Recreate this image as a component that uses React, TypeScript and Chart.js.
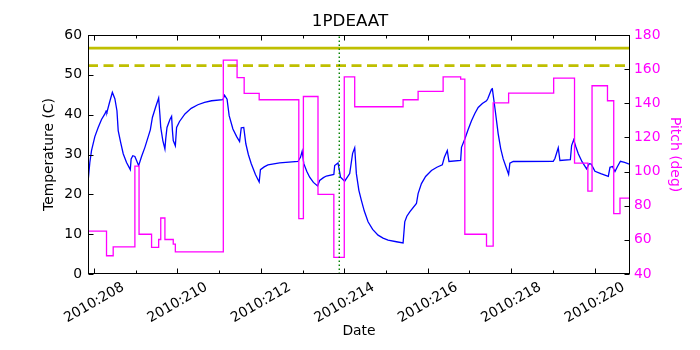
import React, { useEffect, useRef } from "react";
import { Chart, registerables } from "chart.js";

Chart.register(...registerables);

// ---- data (day of year 2010, fractional) ----
const xMin = 207.856;
const xMax = 220.85;

const tempDays = [
  207.856, 207.9, 207.94, 208.02, 208.1, 208.18, 208.26, 208.29, 208.31, 208.37, 208.44, 208.5, 208.55, 208.58,
  208.64, 208.7, 208.78, 208.87, 208.89, 208.93, 208.98, 209.02, 209.07, 209.14, 209.22, 209.3, 209.35, 209.4,
  209.48, 209.55, 209.58, 209.6, 209.65, 209.7, 209.72, 209.75, 209.82, 209.86, 209.88, 209.9, 209.95, 209.98,
  210.05, 210.18, 210.33, 210.49, 210.65, 210.82, 211.09, 211.13, 211.19, 211.24, 211.33, 211.42, 211.49, 211.53,
  211.59, 211.64, 211.7, 211.77, 211.87, 211.96, 211.99, 212.08, 212.17, 212.45, 212.89, 212.95, 212.99, 213.03,
  213.1, 213.17, 213.26, 213.36, 213.41, 213.5, 213.57, 213.75, 213.77, 213.85, 213.91, 214.01, 214.13, 214.2,
  214.25, 214.29, 214.35, 214.41, 214.48, 214.57, 214.68, 214.81, 214.93, 215.05, 215.25, 215.41, 215.45, 215.5,
  215.57, 215.73, 215.77, 215.85, 215.95, 216.09, 216.22, 216.35, 216.4, 216.47, 216.51, 216.79, 216.81, 216.89,
  216.97, 217.05, 217.13, 217.21, 217.31, 217.41, 217.44, 217.53, 217.55, 217.61, 217.69, 217.75, 217.81, 217.88,
  217.94, 217.97, 218.05, 219.01, 219.05, 219.13, 219.17, 219.42, 219.45, 219.5, 219.55, 219.61, 219.7, 219.81,
  219.87, 219.92, 220.01, 220.15, 220.33, 220.37, 220.43, 220.49, 220.55, 220.62, 220.72, 220.85,
];
const tempValues = [
  23, 28, 31, 34.5, 36.8, 38.8, 40.2, 40.9, 40.6, 43, 45.6, 44, 41, 36,
  33, 30.2, 28, 26.2, 28.9, 29.7, 29.5, 28.5, 27.2, 29.5, 31.8, 34.5, 36.2, 39.3,
  42, 44.2, 40, 36.8, 33.5, 31.4, 34, 36.8, 38.8, 39.6, 36, 33.5, 32.2, 36.8,
  38.3, 40.2, 41.6, 42.5, 43.1, 43.5, 43.75, 44.9, 43.9, 39.75, 36.4, 34.5, 33.25, 36.7,
  36.8, 32.7, 30, 27.7, 25, 23.1, 26.2, 26.9, 27.4, 27.9, 28.25, 29.3, 30.8, 27.7,
  25.8, 24.3, 23, 22.1, 23.5, 24.2, 24.6, 25, 27.25, 27.9, 24.3, 23.3, 25.2, 30.3,
  31.7, 25.2, 21, 18.5, 15.8, 13.1, 11.2, 9.75, 9, 8.5, 8.1, 7.8, 13.1, 14.5,
  15.6, 17.7, 20.2, 22.7, 24.5, 26, 26.8, 27.4, 29.3, 31, 28.25, 28.5, 31.8, 33.9,
  36.3, 38.5, 40.3, 41.8, 42.8, 43.5, 44, 46.4, 46.5, 41.8, 35.2, 31.5, 28.9, 26.8,
  25, 27.8, 28.25, 28.3, 29, 31.7, 28.5, 28.7, 32.25, 33.7, 32, 30.2, 28.2, 26.4,
  27.7, 27.6, 25.8, 25.2, 24.5, 26.8, 27, 25.75, 27, 28.3, 28, 27.5,
];

const pitchDays = [
  207.856, 208.3, 208.46, 208.98, 209.08, 209.38, 209.55, 209.6, 209.7, 209.9, 209.95, 211.1, 211.43, 211.6,
  211.96, 212.91, 213.02, 213.37, 213.75, 214.0, 214.25, 215.41, 215.77, 216.37, 216.79, 216.89, 217.41, 217.57,
  217.94, 219.02, 219.52, 219.84, 219.94, 220.31, 220.46, 220.61, 220.85,
];
const pitchValues = [
  65.1, 50.7, 55.9, 103.2, 63.3, 55.6, 60.2, 72.8, 60.2, 57.5, 53, 165.3, 155.1, 145.8,
  142.1, 72.5, 144, 86.7, 49.7, 155.5, 138, 142.1, 147, 155.5, 154.2, 63.3, 56.3, 140.2,
  146, 154.8, 105, 88.6, 150.3, 141.5, 75.4, 84.5, 84.5,
];

const tempLimitSolid = 56.7;
const tempLimitDashed = 52.3;
const markerDay = 213.88;

const labeledDays = [208, 210, 212, 214, 216, 218, 220];
const xTickLabels = ["2010:208", "2010:210", "2010:212", "2010:214", "2010:216", "2010:218", "2010:220"];
const dayTicks = [208, 209, 210, 211, 212, 213, 214, 215, 216, 217, 218, 219, 220];
const tempTicks = [0, 10, 20, 30, 40, 50, 60];
const pitchTicks = [40, 60, 80, 100, 120, 140, 160, 180];

const FONT = "'DejaVu Sans', sans-serif";
const MAGENTA = "#ff00ff";

const framePlugin = {
  id: "mplFrame",
  afterDatasetsDraw(chart: any) {
    const { ctx, chartArea, scales } = chart;
    const left = Math.round(chartArea.left) + 0.5;
    const right = Math.round(chartArea.right) - 0.5;
    const top = Math.round(chartArea.top) + 0.5;
    const bottom = Math.round(chartArea.bottom) - 0.5;
    ctx.save();
    ctx.strokeStyle = "#000";
    ctx.lineWidth = 1;
    ctx.strokeRect(left, top, right - left, bottom - top);
    ctx.beginPath();
    for (const d of dayTicks) {
      const x = Math.round(scales.x.getPixelForValue(d)) + 0.5;
      const len = labeledDays.includes(d) ? 5 : 3;
      ctx.moveTo(x, bottom);
      ctx.lineTo(x, bottom - len);
      ctx.moveTo(x, top);
      ctx.lineTo(x, top + len);
    }
    for (const v of tempTicks) {
      const y = Math.round(scales.y.getPixelForValue(v)) + 0.5;
      ctx.moveTo(left, y);
      ctx.lineTo(left + 5, y);
    }
    for (const v of pitchTicks) {
      const y = Math.round(scales.y1.getPixelForValue(v)) + 0.5;
      ctx.moveTo(right, y);
      ctx.lineTo(right - 5, y);
    }
    ctx.stroke();
    ctx.restore();
  },
};

export default function App() {
  const canvasRef = useRef<HTMLCanvasElement | null>(null);

  useEffect(() => {
    const canvas = canvasRef.current;
    if (!canvas) return;
    Chart.defaults.font.family = FONT;

    const tempData = tempDays.map((d, i) => ({ x: d, y: tempValues[i] }));
    const pitchData = pitchDays.map((d, i) => ({ x: d, y: pitchValues[i] }));

    const chart = new Chart(canvas, {
      type: "line",
      data: {
        datasets: [
          {
            label: "marker",
            data: [
              { x: markerDay, y: 0 },
              { x: markerDay, y: 60 },
            ],
            yAxisID: "y",
            borderColor: "#008000",
            borderWidth: 1.4,
            borderDash: [1.4, 2.6],
            pointRadius: 0,
            order: 0,
          },
          {
            label: "Pitch",
            data: pitchData,
            yAxisID: "y1",
            stepped: "before",
            borderColor: MAGENTA,
            borderWidth: 1.3,
            pointRadius: 0,
            order: 1,
          },
          {
            label: "Temperature",
            data: tempData,
            yAxisID: "y",
            borderColor: "#0000ff",
            borderWidth: 1.3,
            pointRadius: 0,
            tension: 0,
            order: 2,
          },
          {
            label: "limit solid",
            data: [
              { x: xMin, y: tempLimitSolid },
              { x: xMax, y: tempLimitSolid },
            ],
            yAxisID: "y",
            borderColor: "#bfbf00",
            borderWidth: 2.7,
            pointRadius: 0,
            order: 3,
          },
          {
            label: "limit dashed",
            data: [
              { x: xMin, y: tempLimitDashed },
              { x: xMax, y: tempLimitDashed },
            ],
            yAxisID: "y",
            borderColor: "#bfbf00",
            borderWidth: 2.7,
            borderDash: [10, 5.5],
            pointRadius: 0,
            order: 3,
          },
        ],
      },
      options: {
        animation: false,
        responsive: false,
        devicePixelRatio: 1,
        layout: { padding: 0 },
        plugins: {
          legend: { display: false },
          tooltip: { enabled: false },
          title: {
            display: true,
            text: "1PDEAAT",
            color: "#000",
            font: { size: 16.7, weight: "normal", family: FONT },
            padding: { top: 12, bottom: 3 },
          },
        },
        scales: {
          x: {
            type: "linear",
            min: xMin,
            max: xMax,
            grid: { display: false, drawTicks: false },
            border: { display: false },
            afterBuildTicks: (scale: any) => {
              scale.ticks = labeledDays.map((v) => ({ value: v }));
            },
            afterFit: (scale: any) => {
              scale.height = 76;
            },
            ticks: {
              autoSkip: false,
              minRotation: 30,
              maxRotation: 30,
              padding: 5,
              labelOffset: 29,
              color: "#000",
              font: { size: 13.9, family: FONT },
              callback: (value: any) => {
                const idx = labeledDays.indexOf(Number(value));
                return idx >= 0 ? xTickLabels[idx] : "";
              },
            },
            title: {
              display: true,
              text: "Date",
              color: "#000",
              font: { size: 13.9, family: FONT },
              padding: { top: 0, bottom: 10.7 },
            },
          },
          y: {
            type: "linear",
            position: "left",
            min: 0,
            max: 60,
            grid: { display: false, drawTicks: false },
            border: { display: false },
            afterFit: (scale: any) => {
              scale.width = 88;
            },
            ticks: {
              stepSize: 10,
              padding: 6,
              color: "#000",
              font: { size: 13.9, family: FONT },
            },
            title: {
              display: true,
              text: "Temperature (C)",
              color: "#000",
              font: { size: 13.9, family: FONT },
              padding: { top: 41, bottom: 0 },
            },
          },
          y1: {
            type: "linear",
            position: "right",
            min: 40,
            max: 180,
            grid: { display: false, drawTicks: false },
            border: { display: false },
            afterFit: (scale: any) => {
              scale.width = 70;
            },
            ticks: {
              stepSize: 20,
              padding: 4,
              color: MAGENTA,
              font: { size: 13.9, family: FONT },
            },
            title: {
              display: true,
              text: "Pitch (deg)",
              color: MAGENTA,
              font: { size: 13.9, family: FONT },
              padding: { top: 16.7, bottom: 0 },
            },
          },
        },
      },
      plugins: [framePlugin],
    });

    return () => {
      chart.destroy();
    };
  }, []);

  return (
    <div style={{ position: "fixed", left: 0, top: 0, width: 700, height: 350, background: "#fff" }}>
      <canvas ref={canvasRef} width={700} height={350} style={{ width: 700, height: 350, display: "block" }} />
    </div>
  );
}
